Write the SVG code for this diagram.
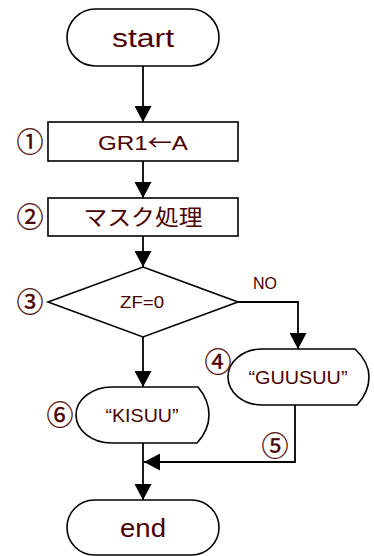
<svg xmlns="http://www.w3.org/2000/svg" width="374" height="556" viewBox="0 0 374 556">
<style>
.shape{fill:#fff;stroke:#000;stroke-width:1.6}
.line{fill:none;stroke:#000;stroke-width:1.8}
.t{font-family:"Liberation Sans","Noto Sans CJK JP",sans-serif;fill:#4a0000;text-anchor:middle}
.n{font-family:"Noto Sans CJK JP",sans-serif;fill:#4a0000;stroke:#4a0000;stroke-width:0.3;text-anchor:middle;font-size:27px}
</style>
<defs>
<marker id="arr" markerUnits="userSpaceOnUse" markerWidth="18" markerHeight="17" refX="16" refY="8.5" orient="auto">
<path d="M0,0 L16,8.5 L0,17 Z" fill="#000"/>
</marker>
</defs>
<rect width="374" height="556" fill="#fff"/>
<g id="connectors">
<path class="line" d="M143,66 V122" marker-end="url(#arr)"/>
<path class="line" d="M143,161 V198" marker-end="url(#arr)"/>
<path class="line" d="M143,236 V267" marker-end="url(#arr)"/>
<path class="line" d="M238,302 H298 V349" marker-end="url(#arr)"/>
<path class="line" d="M143,337 V387" marker-end="url(#arr)"/>
<path class="line" d="M295,405 V462 H144" marker-end="url(#arr)"/>
<path class="line" d="M143,443 V500" marker-end="url(#arr)"/>
<text class="t" x="265" y="289" font-size="16">NO</text>
</g>
<g id="start">
<rect class="shape" x="67" y="9" width="152" height="57" rx="28.5"/>
<text class="t" x="143" y="47" font-size="25" textLength="62" lengthAdjust="spacingAndGlyphs">start</text>
</g>
<g id="step1">
<rect class="shape" x="48" y="122" width="190" height="39"/>
<text class="t" x="143" y="150" font-size="21" textLength="90" lengthAdjust="spacingAndGlyphs">GR1<tspan font-family="Noto Sans CJK JP, sans-serif">←</tspan>A</text>
<text class="n" x="30" y="152">①</text>
</g>
<g id="step2">
<rect class="shape" x="48" y="198" width="190" height="38"/>
<text class="t" x="143" y="225" font-size="22" textLength="119" lengthAdjust="spacingAndGlyphs">マスク処理</text>
<text class="n" x="30" y="227">②</text>
</g>
<g id="decision">
<path class="shape" d="M143,267 L238,302 L143,337 L48,302 Z"/>
<text class="t" x="142" y="308" font-size="17" textLength="44" lengthAdjust="spacingAndGlyphs">ZF=0</text>
<text class="n" x="30" y="312">③</text>
</g>
<g id="guusuu">
<path class="shape" d="M262,349 H355 Q369,362 369,377 Q369,392 357,405 H262 A34,28 0 0 1 262,349 Z"/>
<text class="t" x="298" y="384" font-size="19" textLength="99" lengthAdjust="spacingAndGlyphs">“GUUSUU”</text>
<text class="n" x="218" y="372">④</text>
</g>
<g id="kisuu">
<path class="shape" d="M112,387 H198 Q209,400 209,415 Q209,430 197,443 H112 A36,28 0 0 1 112,387 Z"/>
<text class="t" x="142" y="422" font-size="19" textLength="73" lengthAdjust="spacingAndGlyphs">“KISUU”</text>
<text class="n" x="60" y="425">⑥</text>
</g>
<text class="n" x="275" y="456">⑤</text>
<g id="end">
<rect class="shape" x="67" y="500" width="152" height="55" rx="27.5"/>
<text class="t" x="143" y="537" font-size="25" textLength="46" lengthAdjust="spacingAndGlyphs">end</text>
</g>
</svg>
